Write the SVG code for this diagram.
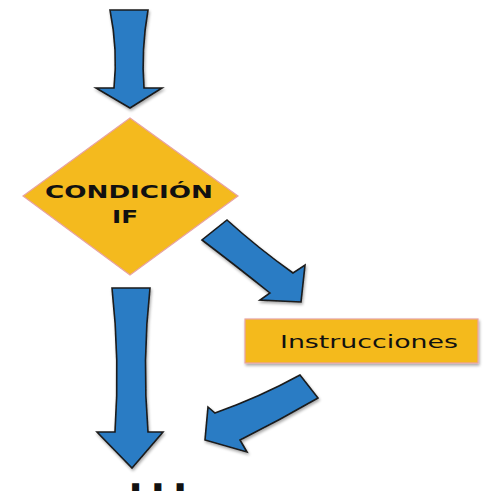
<svg xmlns="http://www.w3.org/2000/svg" width="500" height="500" viewBox="0 0 500 500">
<defs>
<filter id="sh" x="-20%" y="-20%" width="140%" height="140%">
<feGaussianBlur in="SourceAlpha" stdDeviation="1.5"/>
<feOffset dx="1" dy="1.5" result="b"/>
<feComponentTransfer><feFuncA type="linear" slope="0.35"/></feComponentTransfer>
<feMerge><feMergeNode/><feMergeNode in="SourceGraphic"/></feMerge>
</filter>
</defs>
<style>
.arrow{fill:#2A7CC4;stroke:#1a1a1a;stroke-width:1.6;stroke-linejoin:miter;filter:url(#sh)}
.shape{fill:#F4BA1E;stroke:#E8A3A3;stroke-width:1.2}
.lbl{font-family:"DejaVu Sans",Verdana,sans-serif;fill:#111}
.dots{font-family:"DejaVu Sans",sans-serif;font-weight:bold;fill:#111}
</style>
<rect width="500" height="500" fill="#ffffff"/>
<g id="connectors">
<path class="arrow" d="M110,10 L148,10 Q141,50 144,88 L162,88 L130,108 L96,88 L114,88 Q118,50 110,10 Z"/>
<path class="arrow" d="M227,220 Q258,248 293,273 L305,265 L301,302 L260,300 L270,293 Q235,265 202,240 Z"/>
<path class="arrow" d="M300,375 Q260,397 215,413 L208,407 L205,440 L247,452 L240,440 Q280,420 318,398 Z"/>
<path class="arrow" d="M112,288 L150,288 Q142,360 148,432 L163,432 L132,468 L97,432 L115,432 Q120,360 112,288 Z"/>
</g>
<g id="condicion">
<polygon class="shape" points="130,118 238,196 130,275 23,196"/>
<text class="lbl" x="129" y="198" font-size="17" font-weight="bold" text-anchor="middle" textLength="168" lengthAdjust="spacingAndGlyphs">CONDICIÓN</text>
<text class="lbl" x="125" y="223" font-size="17" font-weight="bold" text-anchor="middle" textLength="26" lengthAdjust="spacingAndGlyphs">IF</text>
</g>
<g id="instrucciones">
<rect class="shape" x="245" y="319" width="233" height="44" filter="url(#sh)"/>
<text class="lbl" x="280" y="348" font-size="18" textLength="178" lengthAdjust="spacingAndGlyphs">Instrucciones</text>
</g>
<g id="continua">
<text class="dots" x="128" y="491" font-size="40" letter-spacing="7">...</text>
</g>
</svg>
